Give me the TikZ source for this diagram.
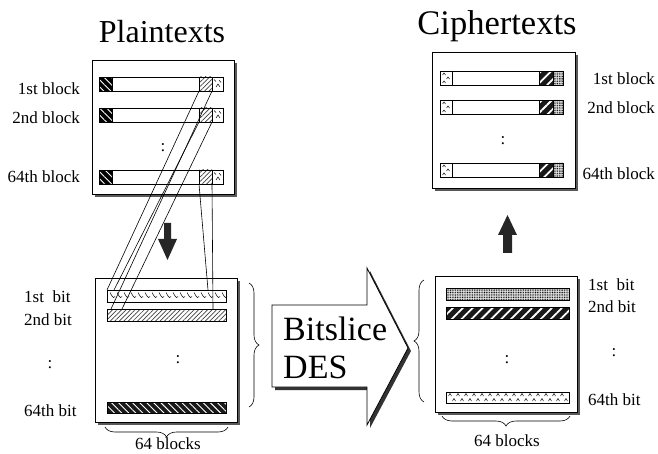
\documentclass[tikz,border=0pt]{standalone}
\usepackage{fontspec}
\setmainfont{Liberation Serif}
\usetikzlibrary{patterns,patterns.meta,decorations.pathreplacing}
\begin{document}
\begin{tikzpicture}[x=1pt,y=-1pt,
  frame/.style={draw=black,fill=white,line width=0.8pt},
  shadowbox/.style={fill=black!65,draw=none},
  bar/.style={draw=black,line width=0.6pt},
  lbl/.style={font=\fontsize{17}{20}\selectfont,inner sep=0pt},
  bigtxt/.style={font=\fontsize{34}{40}\selectfont,inner sep=0pt},
  graylines/.style={pattern={Lines[angle=45,distance=3.2pt,line width=0.7pt]},pattern color=black!75},
  whitelinesNW/.style={pattern={Lines[angle=-45,distance=5pt,line width=0.9pt]},pattern color=white},
  whitelinesNE/.style={pattern={Lines[angle=45,distance=7pt,line width=1.8pt]},pattern color=white},
  dotfill/.style={pattern={Dots[distance=1.7pt,radius=0.55pt]},pattern color=black},
  conn/.style={draw=black,line width=0.6pt},
  tickmark/.style={draw=black,line width=0.5pt},
  fatarrow/.style={fill=black!85,draw=none},
  brc/.style={draw=black,line width=0.6pt,decorate,decoration={brace,amplitude=10pt}}]
\useasboundingbox (0,0) rectangle (658,454);

% ---------- titles
\node[font=\fontsize{32}{38}\selectfont,inner sep=0pt,anchor=base] (tp) at (162,43) {Plaintexts};
\node[font=\fontsize{34.5}{40}\selectfont,inner sep=0pt,anchor=base] (tc) at (497,35) {Ciphertexts};

% ---------- top-left box (plaintexts)
\fill[shadowbox] (95,63) rectangle (237,197);
\draw[frame] (92,60) rectangle (234,194);
\foreach \y/\n in {77/a,108/b,170/c} {
  \fill[black] (99,\y) rectangle (112,\y+14);
  \fill[whitelinesNW] (99,\y) rectangle (112,\y+14);
  \fill[graylines] (199,\y) rectangle (212,\y+14);
  \draw[tickmark] (214,\y+2.5) -- (216,\y+4.5);
  \draw[tickmark] (219,\y+3) -- (221,\y+5.5);
  \draw[tickmark] (216,\y+10) -- (218,\y+7) -- (220,\y+10);
  \draw[bar] (99,\y) rectangle (223,\y+14);
  \draw[bar] (112,\y) -- (112,\y+14) (199,\y) -- (199,\y+14) (212,\y) -- (212,\y+14);
  \coordinate (p\n l) at (199,\y+14);
  \coordinate (p\n r) at (212,\y+14);
}
\node[lbl] (dtl) at (163,148) {:};
\node[lbl,anchor=base east] (l1) at (80,95) {1st block};
\node[lbl,anchor=base east] (l2) at (80,124) {2nd block};
\node[lbl,anchor=base east] (l3) at (80,183) {64th block};

% ---------- down arrow
\fill[fatarrow] (164,223) -- (171,223) -- (171,239) -- (177,239) -- (167.5,260) -- (158,239) -- (164,239) -- cycle;

% ---------- bottom-left box (bit slices)
\fill[shadowbox] (98,281) rectangle (240,425);
\draw[frame] (95,278) rectangle (237,422);
\foreach \x in {110,117,...,222} {
  \draw[tickmark] (\x,292.5) -- (\x+2,296) .. controls (\x+3,298) and (\x+4,298) .. (\x+5,296.5);
}
\draw[bar] (107,290) rectangle (226,302);
\fill[graylines] (107,309) rectangle (226,321);
\draw[bar] (107,309) rectangle (226,321);
\fill[black!90] (107,402) rectangle (226,413);
\fill[whitelinesNW] (107,402) rectangle (226,413);
\draw[bar] (107,402) rectangle (226,413);
\node[lbl] (dbl) at (178,360) {:};
\coordinate (qal) at (107,290);
\coordinate (qar) at (111,309);
\coordinate (qbl) at (114,290);
\coordinate (qbr) at (122,309);
\coordinate (qcl) at (208,290);
\coordinate (qcr) at (213,309);
\draw[conn] (pal) -- (qal);
\draw[conn] (par) -- (qar);
\draw[conn] (pbl) -- (qbl);
\draw[conn] (pbr) -- (qbr);
\draw[conn] (pcl) -- (qcl);
\draw[conn] (pcr) -- (qcr);

\node[lbl,anchor=base west] (b1) at (24,302) {1st\ \ bit};
\node[lbl,anchor=base west] (b2) at (24,325) {2nd bit};
\node[lbl] (b3) at (50,365) {:};
\node[lbl,anchor=base west] (b4) at (24,416) {64th bit};
\draw[brc] (249,283) -- (249,407);
\draw[brc] (228,427) -- (105,427);
\node[lbl,anchor=base] (k1) at (168,449) {64 blocks};

% ---------- big arrow
\fill[black!80] (275,308) -- (370,308) -- (370,271) -- (411,351) -- (370,428) -- (370,390) -- (275,390) -- cycle;
\draw[fill=white,line width=0.8pt] (272,305) -- (367,305) -- (367,268) -- (408,348) -- (367,425) -- (367,387) -- (272,387) -- cycle;
\node[bigtxt,anchor=base west] (bs) at (283,340) {Bitslice};
\node[bigtxt,anchor=base west] (des) at (283,378) {DES};

% ---------- bottom-right box
\draw[brc] (424,402) -- (424,280);
\fill[shadowbox] (438,279) rectangle (580,415);
\draw[frame] (435,276) rectangle (577,412);
\fill[black!10] (446,288) rectangle (569,300);
\fill[dotfill] (446,288) rectangle (569,300);
\draw[bar] (446,288) rectangle (569,300);
\fill[black!90] (446,307) rectangle (569,319);
\fill[whitelinesNE] (446,307) rectangle (569,319);
\draw[bar] (446,307) rectangle (569,319);
\foreach \x in {450,458,...,566} {
  \draw[tickmark] (\x-1.5,396) -- (\x,393.5) -- (\x+1.5,396);
  \draw[tickmark] (\x+2.5,401) -- (\x+4,398.5) -- (\x+5.5,401);
}
\draw[bar] (446,392) rectangle (569,403);
\node[lbl] (dbr) at (507,360) {:};
\node[lbl,anchor=base west] (c1) at (588,290) {1st\ \ bit};
\node[lbl,anchor=base west] (c2) at (588,312) {2nd bit};
\node[lbl] (c3) at (614,353) {:};
\node[lbl,anchor=base west] (c4) at (588,405) {64th bit};
\draw[brc] (570,416) -- (442,416);
\node[lbl,anchor=base] (k2) at (507,446) {64 blocks};

% ---------- up arrow
\fill[fatarrow] (503,253) -- (503,235) -- (498,235) -- (507.5,215) -- (517,235) -- (512,235) -- (512,253) -- cycle;

% ---------- top-right box (ciphertexts)
\fill[shadowbox] (435,55) rectangle (578,191);
\draw[frame] (432,52) rectangle (575,188);
\foreach \y in {71,100,163} {
  \draw[tickmark] (442.5,\y+4) -- (444,\y+2) -- (445.5,\y+4);
  \draw[tickmark] (446.5,\y+8) -- (448,\y+6) -- (449.5,\y+8);
  \draw[tickmark] (442.5,\y+12) -- (444,\y+10) -- (445.5,\y+12);
  \fill[black!90] (539,\y) rectangle (553,\y+14);
  \fill[whitelinesNE] (539,\y) rectangle (553,\y+14);
  \fill[black!10] (553,\y) rectangle (563,\y+14);
  \fill[dotfill] (553,\y) rectangle (563,\y+14);
  \draw[bar] (440,\y) rectangle (563,\y+14);
  \draw[bar] (452,\y) -- (452,\y+14) (539,\y) -- (539,\y+14) (553,\y) -- (553,\y+14);
}
\node[lbl] (dtr) at (503,141) {:};
\node[lbl,anchor=base east] (r1) at (655,85) {1st block};
\node[lbl,anchor=base east] (r2) at (655,114) {2nd block};
\node[lbl,anchor=base east] (r3) at (655,180) {64th block};
\end{tikzpicture}
\end{document}
